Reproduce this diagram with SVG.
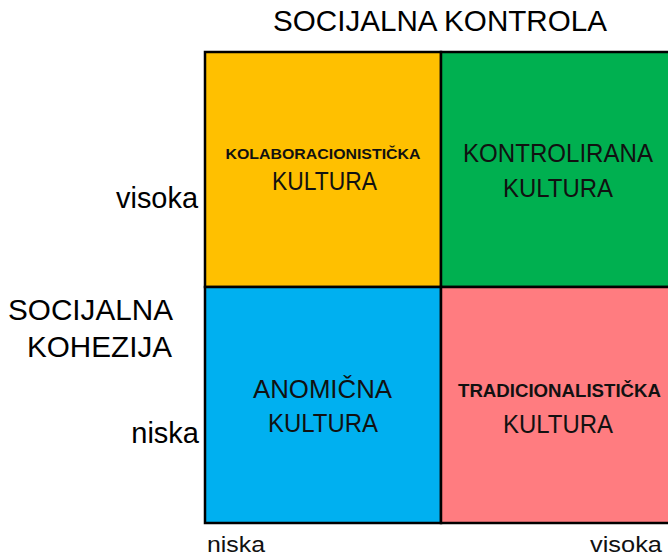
<svg xmlns="http://www.w3.org/2000/svg" width="668" height="557" viewBox="0 0 668 557">
<style>
.ax{font-family:"Liberation Sans",Arial,sans-serif;font-size:29px;fill:#000}
.bx{font-family:"Liberation Sans",Arial,sans-serif;font-size:22px;fill:#111}
.c{font-family:"Liberation Sans",Arial,sans-serif;font-size:26px;fill:#111;text-anchor:middle}
.b{font-family:"Liberation Sans",Arial,sans-serif;font-weight:bold;fill:#111;text-anchor:middle}
.cell{stroke:#000;stroke-width:2.5}
</style>
<rect width="668" height="557" fill="#fff"/>
<g id="title"><text class="ax" x="440" y="31" text-anchor="middle" textLength="334" lengthAdjust="spacingAndGlyphs">SOCIJALNA KONTROLA</text></g>
<g id="y-axis">
<text class="ax" x="198" y="208" text-anchor="end" textLength="82" lengthAdjust="spacingAndGlyphs">visoka</text>
<text class="ax" x="173" y="320" text-anchor="end" textLength="165" lengthAdjust="spacingAndGlyphs">SOCIJALNA</text>
<text class="ax" x="172" y="357" text-anchor="end" textLength="145" lengthAdjust="spacingAndGlyphs">KOHEZIJA</text>
<text class="ax" x="199" y="443" text-anchor="end">niska</text>
</g>
<g id="x-axis">
<text class="bx" x="207" y="552" textLength="58" lengthAdjust="spacingAndGlyphs">niska</text>
<text class="bx" x="662" y="552" text-anchor="end" textLength="72" lengthAdjust="spacingAndGlyphs">visoka</text>
</g>
<g id="kolaboracionisticka">
<rect class="cell" x="205" y="52" width="236" height="235" fill="#FFC000"/>
<text class="b" x="323" y="159" font-size="15.5" textLength="195" lengthAdjust="spacingAndGlyphs">KOLABORACIONISTIČKA</text>
<text class="c" x="324.5" y="190" textLength="105" lengthAdjust="spacingAndGlyphs">KULTURA</text>
</g>
<g id="kontrolirana">
<rect class="cell" x="441" y="52" width="240" height="235" fill="#00B050"/>
<text class="c" x="558" y="162" textLength="190" lengthAdjust="spacingAndGlyphs">KONTROLIRANA</text>
<text class="c" x="558" y="197" textLength="110" lengthAdjust="spacingAndGlyphs">KULTURA</text>
</g>
<g id="anomicna">
<rect class="cell" x="205" y="287" width="236" height="236" fill="#00B0F0"/>
<text class="c" x="322.5" y="398" textLength="139" lengthAdjust="spacingAndGlyphs">ANOMIČNA</text>
<text class="c" x="323" y="432" textLength="110" lengthAdjust="spacingAndGlyphs">KULTURA</text>
</g>
<g id="tradicionalisticka">
<rect class="cell" x="441" y="287" width="240" height="236" fill="#FF7C80"/>
<text class="b" x="559.5" y="397" font-size="18" textLength="203" lengthAdjust="spacingAndGlyphs">TRADICIONALISTIČKA</text>
<text class="c" x="558" y="433" textLength="110" lengthAdjust="spacingAndGlyphs">KULTURA</text>
</g>
<g id="connectors"></g>
</svg>
